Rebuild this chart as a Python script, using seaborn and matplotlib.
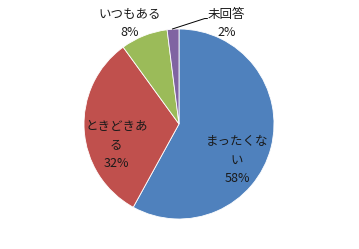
import matplotlib
matplotlib.use("Agg")
import matplotlib.pyplot as plt
import seaborn as sns

categories = ["まったくない", "ときどきある", "いつもある", "未回答"]
values = [58, 32, 8, 2]
label_texts = ["まったくな\nい\n58%", "ときどきあ\nる\n32%", "いつもある\n8%", "未回答\n2%"]
colors = ["#4F81BD", "#C0504D", "#9BBB59", "#8064A2"]

sns.set_style("white")
plt.rcParams['font.family'] = ['Noto Sans CJK JP', 'DejaVu Sans']

W, H = 359, 249
cx, cy, R = 179, 124, 95
fig = plt.figure(figsize=(W / 100, H / 100), dpi=100)
ax = fig.add_axes([0, 0, 1, 1])
palette = sns.color_palette(colors)

wedges, _ = ax.pie(values, colors=palette, startangle=90, counterclock=False,
                   radius=1.0, wedgeprops=dict(edgecolor="white", linewidth=0.6))
ax.set_xlim(-cx / R, (W - cx) / R)
ax.set_ylim((cy - H) / R, cy / R)
ax.set_aspect("equal")
ax.axis("off")

label_pos = [(0.61, -0.38), (-0.66, -0.22), (-0.52, 1.06), (0.50, 1.06)]
for txt, (x, y) in zip(label_texts, label_pos):
    ax.text(x, y, txt, ha="center", va="center", fontsize=9, color="#1a1a1a",
            linespacing=1.55)

# leader line for 未回答
ax.plot([-0.07, 0.27, 0.30], [1.0, 1.11, 1.11], color="black", lw=0.7)

fig.savefig("out.png", dpi=100, facecolor="white")
